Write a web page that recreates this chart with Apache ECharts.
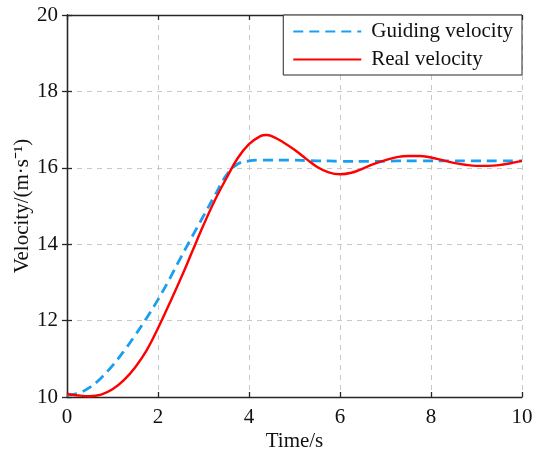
<!DOCTYPE html>
<html>
<head>
<meta charset="utf-8">
<script src="https://cdn.jsdelivr.net/npm/echarts@6/dist/echarts.min.js"></script>
<style>html,body{margin:0;padding:0;background:#fff}#c{width:533px;height:454px}</style>
</head>
<body>
<div id="c"></div>
<script>
var time = [0,0.25,0.5,0.75,1,1.25,1.5,1.75,2,2.25,2.5,2.75,3,3.25,3.5,3.75,4,4.25,4.375,4.5,4.75,5,5.25,5.5,5.75,6,6.25,6.5,6.75,7,7.25,7.5,7.75,8,8.25,8.5,8.75,9,9.25,9.5,9.75,10];
var guidingVelocity = [10.05,10.1,10.25,10.5,10.82,11.2,11.62,12.07,12.55,13.08,13.65,14.2,14.74,15.28,15.8,16.1,16.18,16.2,16.2,16.2,16.2,16.2,16.19,16.18,16.18,16.17,16.17,16.17,16.17,16.17,16.18,16.18,16.18,16.18,16.18,16.18,16.18,16.18,16.18,16.18,16.18,16.18];
var realVelocity = [10.08,10.04,10.02,10.06,10.2,10.44,10.78,11.22,11.8,12.44,13.1,13.8,14.5,15.15,15.72,16.25,16.62,16.83,16.86,16.83,16.67,16.47,16.24,16.02,15.88,15.83,15.87,15.98,16.1,16.2,16.28,16.31,16.31,16.27,16.2,16.13,16.08,16.05,16.05,16.07,16.12,16.18];
var xTicks = [0,2,4,6,8,10];
var yTicks = [10,12,14,16,18,20];

function pairs(xs, ys){ return xs.map(function(x,i){ return [x, ys[i]]; }); }

var font = 'Liberation Serif, Times New Roman, serif';
var fs = 21;
var chart = echarts.init(document.getElementById('c'));
var axisLine = {show:true, lineStyle:{color:'#262626', width:1.3}};
var tick = {show:true, inside:true, length:5, lineStyle:{color:'#262626', width:1.3}};
chart.setOption({
  animation:false,
  backgroundColor:'#fff',
  grid:{left:67, right:11, top:15, bottom:57, outerBoundsMode:'none', containLabel:false},
  legend:{
    right:11, top:15, orient:'vertical',
    backgroundColor:'#fff', borderColor:'#262626', borderWidth:1,
    padding:[6,9,5,9], itemGap:7, itemWidth:68, itemHeight:20,
    itemStyle:{opacity:0},
    textStyle:{fontFamily:font, fontSize:fs, color:'#111', padding:[0,0,0,5]},
    data:['Guiding velocity','Real velocity']
  },
  xAxis:[{
    type:'value', min:xTicks[0], max:xTicks[xTicks.length-1], interval:2,
    name:'Time/s', nameLocation:'middle', nameGap:34, nameMoveOverlap:false,
    nameTextStyle:{fontFamily:font, fontSize:fs, color:'#111'},
    axisLine:axisLine, axisTick:tick,
    axisLabel:{fontFamily:font, fontSize:fs, color:'#111', margin:10},
    splitLine:{show:true, lineStyle:{type:[5,5], color:'#c8c8c8', width:1}}
  },{
    type:'value', position:'top', min:xTicks[0], max:xTicks[xTicks.length-1], interval:2,
    axisLine:axisLine, axisTick:tick, axisLabel:{show:false}, splitLine:{show:false}
  }],
  yAxis:[{
    type:'value', min:yTicks[0], max:yTicks[yTicks.length-1], interval:2,
    name:'Velocity/(m·s⁻¹)', nameLocation:'middle', nameGap:34, nameMoveOverlap:false,
    nameTextStyle:{fontFamily:font, fontSize:fs, color:'#111'},
    axisLine:axisLine, axisTick:tick,
    axisLabel:{fontFamily:font, fontSize:fs, color:'#111', margin:9},
    splitLine:{show:true, lineStyle:{type:[5,5], color:'#c8c8c8', width:1}}
  },{
    type:'value', position:'right', min:yTicks[0], max:yTicks[yTicks.length-1], interval:2,
    axisLine:axisLine, axisTick:tick, axisLabel:{show:false}, splitLine:{show:false}
  }],
  series:[{
    name:'Guiding velocity', type:'line', data:pairs(time, guidingVelocity),
    smooth:0.4, showSymbol:false, symbol:'none',
    lineStyle:{color:'#1a9ff0', width:2.8, type:[10,6]},
    itemStyle:{color:'#1a9ff0'}, z:3
  },{
    name:'Real velocity', type:'line', data:pairs(time, realVelocity),
    smooth:0.4, showSymbol:false, symbol:'none',
    lineStyle:{color:'#ff0000', width:2.4},
    itemStyle:{color:'#ff0000'}, z:4
  }]
});
</script>
</body>
</html>
